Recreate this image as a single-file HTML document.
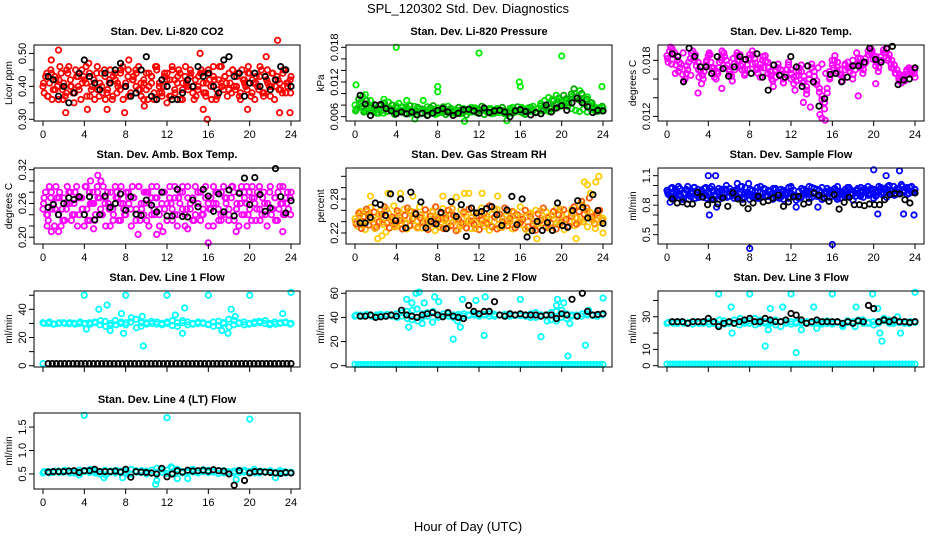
<!DOCTYPE html>
<html><head><meta charset="utf-8"><style>
html,body{margin:0;padding:0;background:#fff;}
svg{display:block;font-family:"Liberation Sans",sans-serif;}
</style></head><body>
<svg id="c" width="936" height="540" viewBox="0 0 936 540">
<text x="468" y="13" text-anchor="middle" font-size="13">SPL_120302  Std. Dev. Diagnostics</text>
<text x="468" y="531" text-anchor="middle" font-size="13">Hour of Day (UTC)</text>
</svg>
<script>
const xTicks=[0,4,8,12,16,20,24];
// Panel 1 CO2
const co2A=[0.40,0.43,0.37,0.45,0.39,0.42,0.36,0.44,0.41,0.38,0.46,0.40,0.35,0.43,0.39,0.45,0.42,0.37,0.44,0.40,0.36,0.46,0.41,0.38,0.43,0.39,0.45,0.37,0.42,0.40,0.44,0.36,0.41,0.45,0.38,0.43,0.40,0.46,0.37,0.42,0.39,0.44,0.41,0.36,0.45,0.40,0.38,0.43,0.42,0.37,0.46,0.39,0.41,0.44,0.36,0.43,0.40,0.45,0.38,0.42,0.39,0.44,0.41,0.37,0.45,0.40,0.43,0.36,0.42,0.46,0.39,0.41,0.44,0.38,0.40,0.43,0.37,0.45,0.41,0.39,0.44,0.42,0.36,0.40,0.46,0.38,0.43,0.41,0.37,0.44,0.40,0.42,0.39,0.45,0.38,0.41,0.43];
const co2B=[0.38,0.44,0.41,0.36,0.43,0.40,0.46,0.39,0.37,0.44,0.42,0.38,0.45,0.40,0.36,0.43,0.41,0.47,0.39,0.42,0.44,0.37,0.40,0.45,0.38,0.42,0.36,0.44,0.41,0.39,0.46,0.40,0.43,0.37,0.42,0.45,0.39,0.41,0.36,0.44,0.40,0.43,0.38,0.46,0.41,0.37,0.44,0.40,0.42,0.45,0.38,0.43,0.36,0.41,0.46,0.39,0.44,0.40,0.37,0.43,0.45,0.38,0.41,0.44,0.36,0.42,0.39,0.46,0.40,0.43,0.37,0.41,0.45,0.39,0.44,0.38,0.42,0.40,0.46,0.37,0.41,0.43,0.39,0.45,0.38,0.42,0.40,0.44,0.36,0.43,0.41,0.38,0.45,0.40,0.42];
const co2C=[0.41,0.37,0.44,0.39,0.42,0.36,0.45,0.40,0.38,0.43,0.41,0.46,0.37,0.42,0.39,0.44,0.36,0.41,0.43,0.38,0.45,0.40,0.37,0.42,0.44,0.39,0.41,0.36,0.43,0.46,0.38,0.40,0.44,0.37,0.42,0.45,0.39,0.41,0.43,0.36,0.40,0.44,0.38,0.42,0.46,0.37,0.41,0.43,0.39,0.45,0.40,0.36,0.42,0.44,0.38,0.41,0.43,0.37,0.45,0.40,0.42,0.39,0.44,0.41,0.38];
const co2Out=[[1.5,0.51],[0.8,0.48],[2.2,0.32],[6.2,0.33],[7.9,0.32],[9.8,0.34],[15.2,0.50],[15.9,0.30],[15.5,0.33],[19.8,0.33],[21.6,0.49],[22.7,0.54],[22.9,0.32],[23.9,0.32],[4.3,0.33],[12,0.35],[8.3,0.48]];
const co2K=[0.43,0.42,0.37,0.40,0.35,0.38,0.44,0.48,0.43,0.41,0.39,0.44,0.41,0.45,0.47,0.40,0.37,0.38,0.45,0.49,0.37,0.36,0.42,0.40,0.36,0.36,0.38,0.42,0.40,0.46,0.43,0.44,0.40,0.38,0.48,0.49,0.43,0.44,0.37,0.41,0.44,0.40,0.43,0.39,0.42,0.46,0.45,0.40];
// Panel 2 pressure
const prA=[0.0080,0.0075,0.0085,0.0095,0.0070,0.0082,0.0088,0.0068,0.0075,0.0072,0.0080,0.0066,0.0078,0.0085,0.0074,0.0070,0.0079,0.0083,0.0068,0.0072,0.0076,0.0065,0.0071,0.0078,0.0069,0.0074,0.0066,0.0072,0.0077,0.0068,0.0071,0.0064,0.0075,0.0070,0.0067,0.0073,0.0078,0.0069,0.0066,0.0072,0.0070,0.0065,0.0074,0.0071,0.0068,0.0076,0.0069,0.0073,0.0066,0.0071,0.0075,0.0068,0.0072,0.0065,0.0070,0.0074,0.0067,0.0071,0.0069,0.0064,0.0072,0.0076,0.0068,0.0070,0.0073,0.0066,0.0071,0.0075,0.0069,0.0072,0.0067,0.0074,0.0070,0.0078,0.0072,0.0069,0.0075,0.0073,0.0080,0.0077,0.0083,0.0079,0.0086,0.0090,0.0095,0.0100,0.0092,0.0105,0.0098,0.0088,0.0094,0.0085,0.0080,0.0076,0.0072,0.0070,0.0075];
const prB=[0.0072,0.0090,0.0078,0.0068,0.0088,0.0076,0.0070,0.0081,0.0066,0.0079,0.0071,0.0084,0.0069,0.0073,0.0080,0.0064,0.0075,0.0070,0.0077,0.0066,0.0073,0.0079,0.0067,0.0070,0.0076,0.0065,0.0073,0.0069,0.0063,0.0075,0.0079,0.0070,0.0066,0.0072,0.0077,0.0064,0.0071,0.0074,0.0069,0.0065,0.0076,0.0072,0.0068,0.0063,0.0073,0.0070,0.0075,0.0067,0.0072,0.0078,0.0064,0.0070,0.0074,0.0068,0.0066,0.0073,0.0071,0.0076,0.0065,0.0069,0.0074,0.0066,0.0072,0.0077,0.0068,0.0073,0.0064,0.0070,0.0076,0.0071,0.0068,0.0074,0.0079,0.0070,0.0076,0.0082,0.0074,0.0087,0.0081,0.0092,0.0086,0.0097,0.0091,0.0084,0.0099,0.0108,0.0094,0.0089,0.0100,0.0082,0.0090,0.0078,0.0084,0.0073,0.0069,0.0074,0.0078];
const prC=[0.0070,0.0084,0.0074,0.0068,0.0078,0.0071,0.0066,0.0075,0.0069,0.0073,0.0067,0.0070,0.0076,0.0065,0.0072,0.0069,0.0074,0.0066,0.0071,0.0068,0.0073,0.0065,0.0070,0.0074,0.0067,0.0072,0.0069,0.0066,0.0073,0.0070,0.0068,0.0075,0.0066,0.0071,0.0069,0.0074,0.0067,0.0072,0.0070,0.0065,0.0073,0.0069,0.0071,0.0076,0.0068,0.0072,0.0078,0.0074,0.0083,0.0088,0.0093,0.0090,0.0097,0.0087,0.0082,0.0078,0.0074,0.0071,0.0069,0.0073,0.0068,0.0072,0.0070,0.0075,0.0071];
const prOut=[[0.1,0.0115],[4,0.0180],[12,0.0170],[20,0.0165],[15.9,0.0120],[16,0.0112],[8,0.0112],[8,0.0103],[23.9,0.0112],[1,0.0098],[2.8,0.0090],[5,0.0088],[6.6,0.0088],[10.6,0.0052],[14.7,0.0053],[5.8,0.0056]];
const prK=[0.0097,0.0082,0.0062,0.0080,0.0081,0.0074,0.0070,0.0065,0.0068,0.0065,0.0068,0.0063,0.0066,0.0062,0.0066,0.0071,0.0074,0.0068,0.0062,0.0066,0.0072,0.0073,0.0070,0.0066,0.0075,0.0067,0.0070,0.0071,0.0068,0.0060,0.0070,0.0072,0.0069,0.0063,0.0067,0.0065,0.0080,0.0068,0.0075,0.0079,0.0071,0.0084,0.0092,0.0084,0.0077,0.0067,0.0071,0.0070];
// Panel 3 Li-820 temp
const tmA=[0.0185,0.0190,0.0192,0.0188,0.0180,0.0172,0.0165,0.0160,0.0170,0.0182,0.0190,0.0186,0.0178,0.0168,0.0160,0.0175,0.0185,0.0178,0.0168,0.0160,0.0172,0.0183,0.0188,0.0180,0.0170,0.0163,0.0176,0.0185,0.0180,0.0170,0.0164,0.0175,0.0186,0.0190,0.0182,0.0172,0.0176,0.0180,0.0185,0.0178,0.0168,0.0158,0.0168,0.0176,0.0170,0.0160,0.0165,0.0175,0.0170,0.0162,0.0158,0.0168,0.0175,0.0163,0.0152,0.0160,0.0172,0.0168,0.0158,0.0150,0.0142,0.0135,0.0145,0.0162,0.0175,0.0185,0.0178,0.0170,0.0162,0.0170,0.0178,0.0172,0.0165,0.0175,0.0182,0.0176,0.0170,0.0178,0.0186,0.0192,0.0185,0.0178,0.0172,0.0180,0.0188,0.0192,0.0186,0.0180,0.0175,0.0170,0.0165,0.0160,0.0158,0.0165,0.0170,0.0168,0.0162];
const tmB=[0.0178,0.0194,0.0186,0.0175,0.0168,0.0176,0.0158,0.0166,0.0178,0.0188,0.0183,0.0174,0.0162,0.0155,0.0168,0.0180,0.0188,0.0172,0.0162,0.0168,0.0178,0.0190,0.0184,0.0175,0.0165,0.0158,0.0170,0.0180,0.0186,0.0176,0.0166,0.0170,0.0182,0.0186,0.0177,0.0166,0.0172,0.0184,0.0179,0.0172,0.0164,0.0152,0.0162,0.0172,0.0165,0.0156,0.0170,0.0178,0.0166,0.0155,0.0163,0.0172,0.0168,0.0158,0.0148,0.0165,0.0176,0.0163,0.0154,0.0146,0.0138,0.0128,0.0150,0.0168,0.0180,0.0180,0.0173,0.0165,0.0158,0.0175,0.0172,0.0168,0.0160,0.0170,0.0178,0.0172,0.0166,0.0182,0.0190,0.0188,0.0181,0.0174,0.0168,0.0184,0.0191,0.0188,0.0182,0.0176,0.0171,0.0166,0.0161,0.0156,0.0162,0.0168,0.0172,0.0165,0.0166];
const tmC=[0.0182,0.0176,0.0166,0.0178,0.0188,0.0174,0.0164,0.0180,0.0170,0.0164,0.0178,0.0186,0.0172,0.0166,0.0180,0.0172,0.0168,0.0182,0.0188,0.0174,0.0170,0.0182,0.0176,0.0170,0.0162,0.0172,0.0166,0.0160,0.0170,0.0164,0.0156,0.0170,0.0160,0.0148,0.0164,0.0156,0.0144,0.0130,0.0156,0.0172,0.0176,0.0166,0.0160,0.0172,0.0168,0.0164,0.0176,0.0172,0.0180,0.0188,0.0182,0.0176,0.0186,0.0190,0.0184,0.0178,0.0188,0.0180,0.0172,0.0166,0.0158,0.0164,0.0170,0.0166,0.0170];
const tmOut=[[13.2,0.0135],[15,0.0118],[15.3,0.0116],[14.8,0.0122],[3,0.0145],[5.3,0.0150],[18.5,0.0142],[20.2,0.0155]];
const tmK=[0.0187,0.0184,0.0157,0.0193,0.0184,0.0173,0.0173,0.0166,0.0184,0.0171,0.0163,0.0173,0.0184,0.0181,0.0166,0.0187,0.0162,0.0148,0.0175,0.0164,0.0162,0.0184,0.0173,0.0152,0.0174,0.0157,0.0131,0.0139,0.0165,0.0166,0.0157,0.0162,0.0174,0.0174,0.0178,0.0193,0.0181,0.0178,0.0193,0.0195,0.0154,0.0159,0.0160,0.0172];
// Panel 4 amb box temp
const abA=[0.25,0.28,0.23,0.27,0.26,0.29,0.24,0.22,0.27,0.25,0.28,0.23,0.26,0.29,0.24,0.27,0.22,0.25,0.28,0.26,0.23,0.29,0.27,0.24,0.26,0.28,0.22,0.25,0.29,0.27,0.23,0.26,0.24,0.28,0.25,0.27,0.23,0.29,0.26,0.24,0.28,0.22,0.27,0.25,0.29,0.24,0.26,0.28,0.23,0.27,0.25,0.29,0.22,0.26,0.28,0.24,0.27,0.25,0.23,0.29,0.26,0.28,0.24,0.27,0.22,0.25,0.29,0.26,0.23,0.28,0.24,0.27,0.25,0.29,0.23,0.26,0.28,0.24,0.27,0.22,0.25,0.29,0.26,0.28,0.23,0.27,0.24,0.26,0.29,0.25,0.23,0.28,0.26,0.24,0.27,0.25,0.28];
const abB=[0.27,0.24,0.29,0.25,0.22,0.27,0.28,0.25,0.23,0.29,0.26,0.24,0.28,0.22,0.27,0.25,0.29,0.23,0.26,0.28,0.24,0.27,0.25,0.29,0.22,0.26,0.28,0.24,0.27,0.23,0.29,0.25,0.28,0.26,0.22,0.27,0.24,0.29,0.25,0.28,0.23,0.26,0.29,0.24,0.27,0.22,0.28,0.25,0.26,0.29,0.23,0.27,0.24,0.28,0.25,0.22,0.29,0.26,0.27,0.24,0.28,0.23,0.25,0.29,0.26,0.27,0.22,0.28,0.25,0.24,0.29,0.26,0.23,0.27,0.28,0.25,0.22,0.29,0.24,0.26,0.28,0.23,0.27,0.25,0.29,0.24,0.26,0.22,0.28,0.25,0.27,0.23,0.29,0.26,0.24,0.28,0.27];
const abC=[0.26,0.24,0.28,0.25,0.27,0.23,0.26,0.28,0.24,0.27,0.25,0.29,0.23,0.26,0.28,0.24,0.27,0.25,0.23,0.28,0.26,0.24,0.27,0.29,0.25,0.23,0.26,0.28,0.24,0.27,0.25,0.28,0.23,0.26,0.24,0.27,0.29,0.25,0.26,0.23,0.28,0.24,0.27,0.25,0.26,0.28,0.23,0.27,0.24,0.29,0.25,0.26,0.28,0.24,0.27,0.23,0.25,0.28,0.26,0.24,0.27,0.25,0.29,0.26,0.24];
const abOut=[[0.4,0.22],[0.8,0.21],[1.5,0.21],[4.6,0.30],[5.3,0.31],[5.6,0.30],[9.2,0.205],[11,0.205],[11.6,0.21],[16,0.19],[19.7,0.29],[23.2,0.21],[18.7,0.21],[14,0.215],[4.9,0.215]];
const abK=[0.253,0.258,0.240,0.260,0.270,0.267,0.272,0.240,0.272,0.231,0.240,0.273,0.253,0.260,0.277,0.248,0.272,0.241,0.239,0.266,0.257,0.245,0.280,0.238,0.238,0.285,0.237,0.236,0.266,0.254,0.285,0.273,0.246,0.277,0.245,0.284,0.238,0.278,0.305,0.258,0.306,0.276,0.246,0.252,0.322,0.272,0.243,0.265];
// Panel 5 RH
const rhA=[0.245,0.232,0.258,0.240,0.226,0.252,0.265,0.238,0.229,0.248,0.260,0.235,0.222,0.255,0.243,0.268,0.231,0.250,0.237,0.262,0.227,0.246,0.258,0.233,0.241,0.266,0.229,0.252,0.238,0.245,0.259,0.224,0.248,0.236,0.263,0.242,0.230,0.254,0.239,0.247,0.226,0.261,0.235,0.250,0.243,0.228,0.256,0.237,0.249,0.264,0.232,0.244,0.225,0.253,0.240,0.262,0.230,0.247,0.236,0.258,0.243,0.227,0.251,0.239,0.266,0.234,0.248,0.223,0.255,0.241,0.260,0.231,0.246,0.238,0.257,0.229,0.250,0.244,0.263,0.235,0.248,0.226,0.254,0.240,0.262,0.233,0.247,0.239,0.270,0.245,0.231,0.256,0.242,0.228,0.251,0.238,0.246];
const rhB=[0.236,0.255,0.228,0.249,0.262,0.234,0.244,0.257,0.231,0.240,0.253,0.266,0.238,0.229,0.248,0.236,0.259,0.242,0.227,0.251,0.264,0.233,0.245,0.256,0.230,0.247,0.239,0.261,0.226,0.250,0.237,0.266,0.243,0.254,0.228,0.246,0.260,0.233,0.251,0.224,0.244,0.238,0.257,0.229,0.262,0.241,0.235,0.250,0.226,0.243,0.255,0.237,0.268,0.231,0.248,0.227,0.253,0.240,0.264,0.233,0.246,0.258,0.229,0.252,0.238,0.244,0.260,0.231,0.249,0.236,0.225,0.254,0.242,0.264,0.230,0.247,0.237,0.258,0.227,0.252,0.239,0.261,0.244,0.232,0.250,0.266,0.236,0.258,0.276,0.253,0.264,0.282,0.248,0.237,0.255,0.260,0.242];
const rhC=[0.240,0.250,0.233,0.258,0.244,0.228,0.253,0.239,0.262,0.246,0.231,0.255,0.242,0.236,0.259,0.247,0.229,0.252,0.240,0.234,0.257,0.245,0.230,0.250,0.238,0.263,0.243,0.232,0.254,0.240,0.247,0.228,0.256,0.237,0.249,0.233,0.261,0.244,0.230,0.252,0.240,0.257,0.235,0.248,0.227,0.253,0.241,0.236,0.259,0.245,0.232,0.251,0.238,0.262,0.243,0.230,0.255,0.247,0.270,0.240,0.258,0.245,0.236,0.250,0.242];
const rhOut=[[1.5,0.285],[2.2,0.21],[2.6,0.215],[3.2,0.29],[4.4,0.29],[5.6,0.285],[8.5,0.285],[9.8,0.283],[10.6,0.29],[11,0.29],[12.3,0.29],[13.8,0.285],[17.6,0.21],[21.4,0.21],[22.2,0.31],[22.8,0.29],[22.5,0.305],[23.3,0.31],[23.6,0.32],[24,0.22]];
const rhK=[0.2377,0.2377,0.2476,0.273,0.270,0.251,0.289,0.2417,0.280,0.229,0.292,0.2535,0.2747,0.229,0.2405,0.236,0.2564,0.2276,0.2753,0.2493,0.270,0.214,0.264,0.2553,0.258,0.263,0.2664,0.2523,0.2334,0.2606,0.2846,0.2346,0.280,0.213,0.224,0.2405,0.2246,0.2383,0.2246,0.273,0.233,0.230,0.2595,0.277,0.265,0.2465,0.2876,0.2595,0.237];
// Panel 6 sample flow
const sfA=[0.95,0.90,0.98,0.88,0.93,0.97,0.86,0.92,0.99,0.89,0.94,0.87,0.96,0.91,0.88,0.98,0.93,0.86,0.95,0.90,0.97,0.88,0.92,1.00,0.89,0.94,0.87,0.96,0.91,0.99,0.88,0.93,0.86,0.95,0.90,0.98,0.87,0.92,0.96,0.89,0.94,0.86,0.97,0.91,0.88,0.95,0.93,0.87,0.99,0.90,0.85,0.94,0.88,0.96,0.91,0.87,0.98,0.93,0.89,0.95,0.86,0.92,0.97,0.88,0.94,0.90,0.99,0.87,0.93,0.96,0.89,0.91,0.85,0.95,0.92,0.98,0.88,0.94,0.90,0.97,0.87,0.93,0.99,0.91,0.96,0.88,1.00,0.94,0.90,0.97,0.92,0.99,0.95,0.91,0.98,0.93,0.96];
const sfB=[0.91,0.97,0.87,0.94,0.99,0.89,0.92,0.96,0.86,0.93,0.98,0.90,0.88,0.95,0.97,0.87,0.91,0.99,0.89,0.94,0.86,0.96,0.92,0.88,0.97,0.90,0.95,0.89,0.93,0.86,0.98,0.91,0.96,0.88,0.94,0.87,0.99,0.92,0.89,0.95,0.91,0.97,0.88,0.93,0.96,0.86,0.90,0.98,0.92,0.95,0.89,0.87,0.97,0.91,0.94,0.99,0.88,0.92,0.96,0.90,0.98,0.87,0.93,0.95,0.89,0.97,0.86,0.94,0.91,0.88,0.98,0.96,0.92,0.89,0.97,0.90,0.95,0.93,0.99,0.91,0.96,0.89,0.94,0.98,0.92,0.97,0.93,0.95,0.99,0.91,0.96,1.01,0.94,0.97,0.92,0.99,0.93];
const sfC=[0.93,0.89,0.96,0.91,0.87,0.95,0.92,0.98,0.88,0.94,0.90,0.97,0.86,0.93,0.91,0.96,0.89,0.94,0.87,0.99,0.92,0.90,0.95,0.88,0.93,0.97,0.89,0.91,0.96,0.87,0.94,0.92,0.98,0.90,0.88,0.95,0.93,0.91,0.97,0.89,0.86,0.94,0.92,0.96,0.88,0.93,0.90,0.98,0.91,0.95,0.89,0.97,0.92,0.94,0.90,0.96,0.93,0.99,0.91,0.95,0.97,0.93,0.98,0.94,0.96];
const sfOut=[[0.3,0.83],[4,1.10],[4.7,1.10],[4.1,0.70],[4.8,0.78],[8,0.36],[16,0.40],[20,1.16],[20.4,0.71],[21.2,1.10],[22.5,1.15],[22.9,0.71],[23.9,0.70],[7.9,1.02],[6.8,1.02],[14.6,0.78],[12.5,0.78]];
const sfK=[0.863,0.822,0.832,0.812,0.812,0.930,0.883,0.805,0.856,0.812,0.873,0.788,0.924,0.863,0.822,0.764,0.822,0.889,0.832,0.846,0.873,0.900,0.788,0.832,0.883,0.889,0.812,0.829,0.924,0.900,0.873,0.839,0.907,0.760,0.829,0.880,0.805,0.805,0.795,0.812,0.805,0.805,0.856,0.907,0.920,0.914,0.856,0.822,0.924];
// Panel 7 line 1
const l1A=[30.5,30,29.5,30,30.5,29.8,30.2,30,29.5,30.5,31,29,31.5,28.5,32,30,29,31,33,28,30.5,31.5,29.5,30,31,28.5,30.5,32,29,30,31,30,29.5,28,31.5,30,27.5,32,30.5,29,30,31,30.5,32,30,29.5,30.5,31,30];
const l1B=[30,31,29.5,30.5,30,30.5,29.5,31,30,29.5,30.5,32,28,30,29,31,30.5,34,27,30.5,29.5,30,31,29,30,32,28,30.5,31,29.5,30,30.5,29,31,28.5,30.5,33,29,30,31,29.5,30,31.5,30,29,31,30,30.5,29.5];
const l1Out=[[0,1.5],[4,50],[5.4,40],[6.2,43],[6.5,25],[7.6,37],[7.8,23],[8,50],[9.7,14],[9.6,35],[12,50],[12.8,36],[13.7,41],[13.5,23],[16,50],[17.3,25],[17.9,23],[18.2,40],[18.6,35],[20,50],[23.2,37],[24,52],[4.2,26]];
const l1K=[1.5,1.5,1.5,1.5,1.5,1.5,1.5,1.5,1.5,1.5,1.5,1.5,1.5,1.5,1.5,1.5,1.5,1.5,1.5,1.5,1.5,1.5,1.5,1.5,1.5,1.5,1.5,1.5,1.5,1.5,1.5,1.5,1.5,1.5,1.5,1.5,1.5,1.5,1.5,1.5,1.5,1.5,1.5,1.5,1.5,1.5,1.5,1.5,1.5,1.5,1.5,1.5,1.5,1.5,1.5,1.5,1.5,1.5,1.5,1.5];
// Panel 8 line 2
const l2A=[41,42,41.5,42,41,42.5,41,42,43,41,45,38,47,40,44,36,42,41,43,40,42.5,41,42,43,41.5,42,41,42.5,42,41,42.5,41.5,42,41,43,40,42,41.5,44,37,46,39,42,41,43,42,41.5,42,43];
const l2B=[42,41,42.5,41,42,41.5,42.5,41,40,44,39,46,37,43,41,45,40,43,41,42,41,43,41.5,42,41,42.5,43,41,42,42.5,41,42,41.5,42,40,44,41,42,38,45,40,43,41,42,41,43,42,41,42];
const l2Out=[[5,55],[5.5,52],[5.2,32],[5.9,60],[6.2,61],[6.7,52],[6.5,35],[7.7,57],[8.1,53],[9.5,22],[9.9,37],[10.2,32],[10.4,55],[11.7,54],[12.6,57],[12.5,25],[16,55],[18,24],[18.6,37],[19.5,50],[19.6,55],[20.2,52],[20.6,8],[20.8,35],[22.3,17],[24,56],[22.6,46]];
const l2K=[41,41,42,40,40.5,41,42,41,46,42,41,40,42,43,44,42,40.5,44,41,40,39,50,45,43,45,45,53,42,41,43,42,43,42,42,42,41,42,42,39,43,42,55,41,60,45,42,42.5,43];
const l2Z=[1,1,1,1,1,1,1,1,1,1,1,1,1,1,1,1,1,1,1,1,1,1,1,1,1,1,1,1,1,1,1,1,1,1,1,1,1,1,1,1,1,1,1,1,1,1,1,1,1,1,1,1,1,1,1,1,1,1,1,1,1,1,1,1,1,1,1,1,1,1,1,1,1,1,1,1,1,1,1,1];
// Panel 9 line 3
const l3A=[26,26.5,26,27,26,25.5,26.5,26,27,26,25,27.5,26,28,25,27,26,29,26,27,26,28,24,26.5,27,26,26.5,27,26,26.5,27,26,25.5,27,24,26.5,27,28,26,26.5,25,27,29,26,27,26.5,26,27,26.5];
const l3B=[26.5,26,27,26,26.5,27,26,27,25.5,27,28,25.5,27,26,29,26,27.5,25,28,26,27,25,27,26,25.5,27,26,26.5,27,26,25.5,27.5,26,26.5,25,27.5,26,27,28,26,27,26,27.5,28,26,27,26.5,26,27];
const l3Out=[[5,44],[6.2,36],[6.3,20],[8,44],[9.5,12],[9.8,22],[10,35],[11.2,36],[12,44],[12.5,8],[13,22],[14.2,36],[14.5,23],[15.1,26],[16,44],[18.3,36],[18.2,24],[19.9,44],[20.4,35],[20.6,20],[20.8,15],[22.3,30],[22.6,20],[24,45]];
const l3K=[27,27,27,26,27,27,27,29,27,24,26,27,26,27,28,29,27,27,29,28,27,27,28,32,31,28,26,27,28,27,27,27,27,26,27,26,27.5,27,37,35,27,28,27,28,27,27,26.5,27];
const l3Z=[1,1,1,1,1,1,1,1,1,1,1,1,1,1,1,1,1,1,1,1,1,1,1,1,1,1,1,1,1,1,1,1,1,1,1,1,1,1,1,1,1,1,1,1,1,1,1,1,1,1,1,1,1,1,1,1,1,1,1,1,1,1,1,1,1,1,1,1,1,1,1,1,1,1,1,1,1,1,1,1];
// Panel 10 line 4
const l4A=[0.52,0.55,0.53,0.56,0.54,0.57,0.52,0.58,0.55,0.53,0.56,0.50,0.58,0.54,0.52,0.56,0.55,0.50,0.57,0.53,0.56,0.52,0.54,0.60,0.51,0.63,0.55,0.52,0.57,0.54,0.56,0.59,0.53,0.55,0.57,0.52,0.54,0.56,0.53,0.58,0.55,0.52,0.56,0.54,0.57,0.53,0.55,0.52,0.54];
const l4B=[0.55,0.52,0.56,0.53,0.58,0.52,0.55,0.53,0.57,0.60,0.52,0.55,0.48,0.56,0.58,0.53,0.51,0.60,0.54,0.57,0.50,0.58,0.62,0.54,0.58,0.52,0.60,0.55,0.53,0.60,0.52,0.55,0.58,0.54,0.51,0.57,0.55,0.52,0.58,0.54,0.53,0.60,0.52,0.55,0.56,0.52,0.57,0.55,0.53];
const l4Out=[[4,1.75],[12,1.70],[20,1.67],[10.9,0.28],[11,0.36],[12.4,0.65],[13,0.40],[14,0.40],[5.9,0.42],[7.7,0.42],[18.7,0.38],[22.5,0.42],[3.5,0.48]];
const l4K=[0.54,0.55,0.55,0.55,0.56,0.57,0.53,0.57,0.57,0.60,0.55,0.55,0.55,0.56,0.54,0.60,0.43,0.55,0.54,0.53,0.52,0.50,0.62,0.44,0.50,0.57,0.54,0.58,0.56,0.57,0.58,0.56,0.59,0.57,0.56,0.50,0.26,0.57,0.36,0.52,0.55,0.55,0.54,0.53,0.52,0.51,0.53,0.52];

const svg=document.getElementById('c');
const NS='http://www.w3.org/2000/svg';
function mk(tag,attrs,parent){const e=document.createElementNS(NS,tag);for(const k in attrs)e.setAttribute(k,attrs[k]);(parent||svg).appendChild(e);return e;}

const panels=[
 {title:'Stan. Dev. Li-820 CO2',ylab:'Licor ppm',col:0,row:0,ymin:0.2948,ymax:0.5256,ticks:[0.30,0.35,0.40,0.45,0.50],labels:['0.30','0.40','0.50'],lv:[0.30,0.40,0.50],A:co2A,B:co2B,C:co2C,cA:'#ff0000',cB:'#ff0000',cC:'#ff0000',out:co2Out,K:co2K,xl:true,key:'co2'},
 {title:'Stan. Dev. Li-820 Pressure',ylab:'kPa',col:1,row:0,ymin:0.00525,ymax:0.0184,ticks:[0.006,0.008,0.010,0.012,0.014,0.016,0.018],labels:['0.006','0.012','0.018'],lv:[0.006,0.012,0.018],A:prA,B:prB,C:prC,cA:'#00ee00',cB:'#00aa00',cC:'#00dd00',out:prOut,K:prK,xl:true,key:'pressure'},
 {title:'Stan. Dev. Li-820 Temp.',ylab:'degrees C',col:2,row:0,ymin:0.01151,ymax:0.01964,ticks:[0.012,0.014,0.016,0.018],labels:['0.012','0.018'],lv:[0.012,0.018],A:tmA,B:tmB,C:tmC,cA:'#ff00ff',cB:'#ff00ff',cC:'#ff00ff',out:tmOut,K:tmK,xl:true,key:'temp'},
 {title:'Stan. Dev. Amb. Box Temp.',ylab:'degrees C',col:0,row:1,ymin:0.188,ymax:0.323,ticks:[0.20,0.22,0.24,0.26,0.28,0.30,0.32],labels:['0.20','0.26','0.32'],lv:[0.20,0.26,0.32],A:abA,B:abB,C:abC,cA:'#ff00ff',cB:'#ff00ff',cC:'#ff00ff',out:abOut,K:abK,xl:true,key:'ambbox'},
 {title:'Stan. Dev. Gas Stream RH',ylab:'percent',col:1,row:1,ymin:0.2006,ymax:0.3347,ticks:[0.22,0.24,0.26,0.28,0.30,0.32],labels:['0.22','0.28'],lv:[0.22,0.28],A:rhA,B:rhB,C:rhC,cA:'#ffcc00',cB:'#ff5500',cC:'#ffaa00',out:rhOut,K:rhK,xl:true,key:'rh'},
 {title:'Stan. Dev. Sample Flow',ylab:'ml/min',col:2,row:1,ymin:0.405,ymax:1.178,ticks:[0.5,0.6,0.7,0.8,0.9,1.0,1.1],labels:['0.5','0.8','1.1'],lv:[0.5,0.8,1.1],A:sfA,B:sfB,C:sfC,cA:'#0000ff',cB:'#0000ff',cC:'#0000ff',out:sfOut,K:sfK,xl:true,key:'sampleflow'},
 {title:'Stan. Dev. Line 1 Flow',ylab:'ml/min',col:0,row:2,ymin:-0.9,ymax:53,ticks:[0,10,20,30,40,50],labels:['0','20','40'],lv:[0,20,40],A:l1A,B:l1B,cA:'#00ffff',cB:'#00ffff',out:l1Out,K:l1K,xl:false,key:'line1'},
 {title:'Stan. Dev. Line 2 Flow',ylab:'ml/min',col:1,row:2,ymin:-1.1,ymax:61.9,ticks:[0,20,40,60],labels:['0','20','40','60'],lv:[0,20,40,60],A:l2A,B:l2B,cA:'#00ffff',cB:'#00ffff',out:l2Out,K:l2K,Z:l2Z,xl:false,key:'line2'},
 {title:'Stan. Dev. Line 3 Flow',ylab:'ml/min',col:2,row:2,ymin:-0.8,ymax:45.8,ticks:[0,10,20,30,40],labels:['0','10','30'],lv:[0,10,30],A:l3A,B:l3B,cA:'#00ffff',cB:'#00ffff',out:l3Out,K:l3K,Z:l3Z,xl:false,key:'line3'},
 {title:'Stan. Dev. Line 4 (LT) Flow',ylab:'ml/min',col:0,row:3,ymin:0.179,ymax:1.80,ticks:[0.5,1.0,1.5],labels:['0.5','1.0','1.5'],lv:[0.5,1.0,1.5],A:l4A,B:l4B,cA:'#00ffff',cB:'#00ffff',out:l4Out,K:l4K,xl:true,key:'line4'}
];
const colL=[34,346,658], rowT=[45,168,291,413];
panels.forEach(p=>{
  const L=colL[p.col], R=L+266, T=rowT[p.row], B=T+76;
  const x0=L+9, x1=R-9;
  const xs=h=>x0+(x1-x0)*h/24;
  const ys=v=>B-(v-p.ymin)/(p.ymax-p.ymin)*(B-T);
  const g=mk('g',{});
  
  
  const t=mk('text',{x:(L+R)/2,y:T-10,'text-anchor':'middle','font-size':'11','font-weight':'bold'},g);
  t.textContent=p.title;
  
  
  const yl=mk('text',{x:0,y:0,'text-anchor':'middle','font-size':'10',transform:`translate(${L-22},${(T+B)/2}) rotate(-90)`},g);
  yl.textContent=p.ylab;
  
  
  const pts=mk('g',{fill:'none','stroke-width':'1.8'},g);
  
  
  function dot(h,v,c){
    const e=mk('circle',{cx:xs(h).toFixed(1),cy:ys(v).toFixed(1),r:'2.7',stroke:c},pts);
    
    
  }
  p.A.forEach((v,i)=>dot(i*24/(p.A.length-1),v,p.cA));
  p.B.forEach((v,i)=>dot(0.12+i*23.8/(p.B.length-1),v,p.cB));
  if(p.C) p.C.forEach((v,i)=>dot(0.06+i*23.9/(p.C.length-1),v,p.cC));
  if(p.Z) p.Z.forEach((v,i)=>dot(i*24/(p.Z.length-1),v,'#00ffff'));
  p.out.forEach(o=>dot(o[0],o[1],p.cA));
  p.K.forEach((v,i)=>dot(0.5+i*23.5/(p.K.length-1),v,'#000000'));
  const bx=mk('rect',{x:L,y:T,width:R-L,height:B-T,fill:'none',stroke:'#000','stroke-width':'1'},g);
  
  
  p.ticks.forEach(v=>{mk('line',{x1:L,x2:L-5,y1:ys(v),y2:ys(v),stroke:'#000'},g);});
  p.lv.forEach((v,i)=>{
    const tl=mk('text',{x:0,y:0,'text-anchor':'middle','font-size':'11',transform:`translate(${L-8},${ys(v)}) rotate(-90)`},g);
    tl.textContent=p.labels[i];
    
    
  });
  xTicks.forEach(h=>{
    mk('line',{x1:xs(h),x2:xs(h),y1:B,y2:B+5,stroke:'#000'},g);
    if(p.xl){
      const xt=mk('text',{x:xs(h),y:B+17,'text-anchor':'middle','font-size':'11'},g);
      xt.textContent=h;
      
      
    }
  });
});
</script>
</body></html>
